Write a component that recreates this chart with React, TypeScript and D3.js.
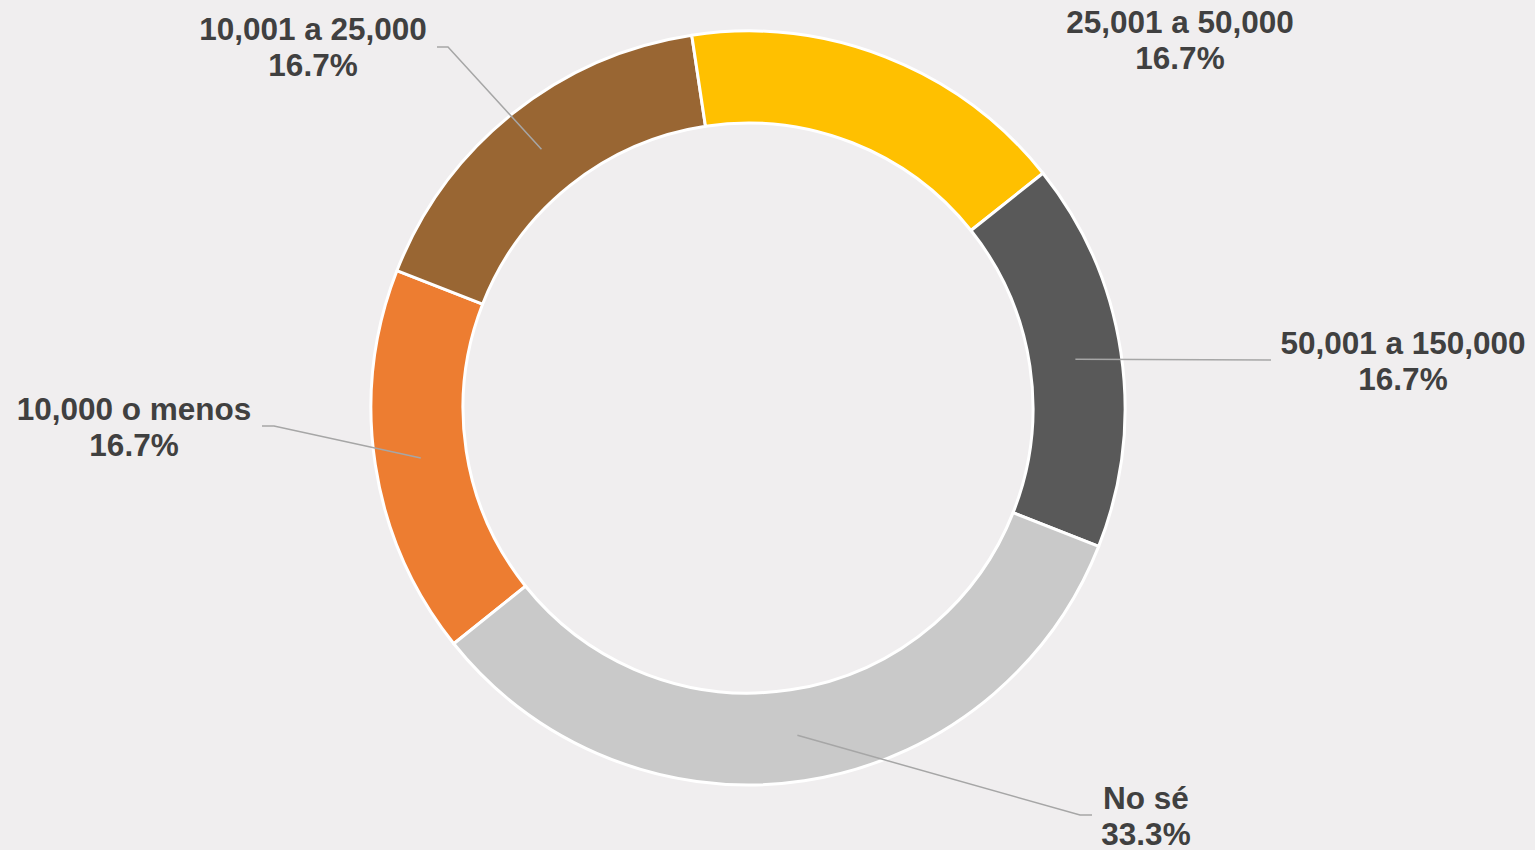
import React, { useEffect } from "react";
import * as d3 from "d3";

const categories = ["10,000 o menos", "10,001 a 25,000", "25,001 a 50,000", "50,001 a 150,000", "No sé"];
const values = [16.7, 16.7, 16.7, 16.7, 33.3];
const percentLabels = ["16.7%", "16.7%", "16.7%", "16.7%", "33.3%"];
const colors = ["#ED7D31", "#996633", "#FFC000", "#595959", "#C9C9C9"];

// layout: label block anchors (mid between the two baselines, relative to chart centre)
const labelOffsets: [number, number][] = [
  [-614, 30],
  [-435, -350],
  [432, -357],
  [655, -36],
  [398, 419],
];
const leaderStarts: ([number, number] | null)[] = [
  [-486, 18],
  [-311, -361],
  null,
  [523, -48],
  [344, 407],
];
const leaderElbows: ([number, number] | null)[] = [
  [-474, 18],
  [-300, -361],
  null,
  null,
  [332, 407],
];

const W = 1535;
const H = 850;
const cx = 748;
const cy = 408;
const outerR = 377;
const innerR = 285;
const startDeg = 231.3;

export default function App() {
  useEffect(() => {
    document.body.style.margin = "0";
    document.body.style.background = "#F0EEEF";
  }, []);

  const pie = d3
    .pie<number>()
    .sort(null)
    .value((d) => d)
    .startAngle((startDeg * Math.PI) / 180)
    .endAngle((startDeg * Math.PI) / 180 + 2 * Math.PI);
  const arcs = pie(values);
  const arc = d3.arc<d3.PieArcDatum<number>>().innerRadius(innerR).outerRadius(outerR);

  const fontSize = 31.5;
  const lineGap = 36.5;

  return (
    <svg width={W} height={H} style={{ display: "block", background: "#F0EEEF" }}>
      <rect x={0} y={0} width={W} height={H} fill="#F0EEEF" />
      <g transform={`translate(${cx},${cy})`}>
        {arcs.map((a, i) => (
          <path key={i} d={arc(a) || ""} fill={colors[i]} stroke="#FFFFFF" strokeWidth={3} strokeLinejoin="round" />
        ))}
        {arcs.map((a, i) => {
          const s = leaderStarts[i];
          if (!s) return null;
          const c = arc.centroid(a);
          const e = leaderElbows[i];
          const pts: [number, number][] = e ? [s, e, c as [number, number]] : [s, c as [number, number]];
          return (
            <path
              key={"l" + i}
              d={d3.line()(pts) || ""}
              fill="none"
              stroke="#A6A6A6"
              strokeWidth={1.5}
            />
          );
        })}
        {arcs.map((a, i) => {
          const [lx, ly] = labelOffsets[i];
          return (
            <text
              key={"t" + i}
              x={lx}
              y={ly}
              textAnchor="middle"
              fontFamily="'Liberation Sans', Arial, sans-serif"
              fontWeight="bold"
              fontSize={fontSize}
              fill="#404040"
            >
              <tspan x={lx} y={ly - lineGap / 2}>{categories[i]}</tspan>
              <tspan x={lx} y={ly + lineGap / 2}>{percentLabels[i]}</tspan>
            </text>
          );
        })}
      </g>
    </svg>
  );
}
